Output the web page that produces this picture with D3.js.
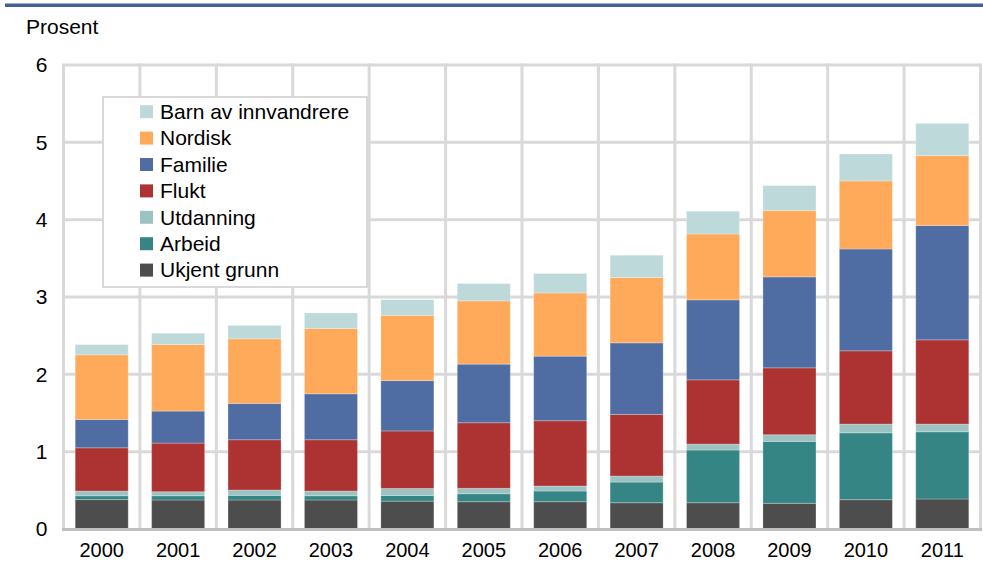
<!DOCTYPE html>
<html>
<head>
<meta charset="utf-8">
<script src="https://cdn.jsdelivr.net/npm/d3@7"></script>
<style>
  body { margin: 0; background: #fff; }
  text { font-family: "Liberation Sans", Arial, sans-serif; fill: #000; }
</style>
</head>
<body>
<svg id="chart" width="983" height="569"></svg>
<script>
// data (percent)
years = ["2000","2001","2002","2003","2004","2005","2006","2007","2008","2009","2010","2011"];

ukjent    = [0.38, 0.375, 0.375, 0.375, 0.36, 0.353, 0.353, 0.34, 0.34, 0.332, 0.379, 0.388];
arbeid    = [0.05, 0.055, 0.06, 0.055, 0.073, 0.103, 0.138, 0.267, 0.681, 0.801, 0.865, 0.869];
utdanning = [0.06, 0.052, 0.069, 0.061, 0.091, 0.07, 0.065, 0.078, 0.077, 0.086, 0.113, 0.10];
flukt     = [0.56, 0.629, 0.65, 0.663, 0.744, 0.848, 0.844, 0.797, 0.831, 0.865, 0.947, 1.089];
familie   = [0.366, 0.414, 0.47, 0.594, 0.651, 0.758, 0.835, 0.925, 1.034, 1.176, 1.317, 1.478];
nordisk   = [0.836, 0.861, 0.835, 0.845, 0.844, 0.818, 0.818, 0.845, 0.852, 0.857, 0.879, 0.904];
barn      = [0.133, 0.146, 0.173, 0.2, 0.203, 0.224, 0.25, 0.288, 0.294, 0.323, 0.349, 0.417];

seriesNames = ["Ukjent grunn", "Arbeid", "Utdanning", "Flukt", "Familie", "Nordisk", "Barn av innvandrere"];
seriesValues = [ukjent, arbeid, utdanning, flukt, familie, nordisk, barn];
seriesColors = ["#4d4d4d", "#348584", "#9cc3c1", "#ad3232", "#4f6ca3", "#ffaa5a", "#bed9d9"];

yTicks = [0, 1, 2, 3, 4, 5, 6];

margin = {top: 65, right: 2.5, bottom: 40, left: 63.5};
width = 983;
height = 569;

var svg = d3.select("#chart");

// table for d3.stack
var table = years.map(function(y, i) {
  var row = {year: y};
  seriesNames.forEach(function(n, k) { row[n] = seriesValues[k][i]; });
  return row;
});

var stack = d3.stack().keys(seriesNames);
var layers = stack(table);

var x = d3.scaleBand()
  .domain(years)
  .range([margin.left, width - margin.right])
  .paddingInner(0.306)
  .paddingOuter(0.153);

var y = d3.scaleLinear()
  .domain([0, 6])
  .range([height - margin.bottom, margin.top]);

var color = d3.scaleOrdinal().domain(seriesNames).range(seriesColors);

// top rule
svg.append("rect")
  .attr("x", 5).attr("y", 3.5)
  .attr("width", width - 5).attr("height", 3.5)
  .attr("fill", "#435f93");

// y label
svg.append("text")
  .attr("x", 26).attr("y", 34)
  .style("font-size", "21px")
  .text("Prosent");

// grid
var grid = svg.append("g").attr("class", "grid");

grid.selectAll(".hgrid")
  .data(yTicks.filter(function(d) { return d > 0; }))
  .enter().append("line")
  .attr("x1", margin.left).attr("x2", width - margin.right)
  .attr("y1", function(d) { return y(d); })
  .attr("y2", function(d) { return y(d); })
  .attr("stroke", "#d9d9d9")
  .attr("stroke-width", 3);

var step = x.step();
var bounds = d3.range(years.length + 1).map(function(i) { return margin.left + i * step; });

grid.selectAll(".vgrid")
  .data(bounds)
  .enter().append("line")
  .attr("x1", function(d) { return d; })
  .attr("x2", function(d) { return d; })
  .attr("y1", y(6) - 1.5).attr("y2", y(0))
  .attr("stroke", "#d9d9d9")
  .attr("stroke-width", 3);

// bars
svg.selectAll(".layer")
  .data(layers)
  .enter().append("g")
  .attr("class", "layer")
  .attr("fill", function(d) { return color(d.key); })
  .selectAll("rect")
  .data(function(d) { return d; })
  .enter().append("rect")
  .attr("x", function(d) { return x(d.data.year); })
  .attr("width", x.bandwidth())
  .attr("y", function(d) { return y(d[1]); })
  .attr("height", function(d) { return y(d[0]) - y(d[1]); })
  .attr("stroke", "#ffffff")
  .attr("stroke-opacity", 0.25)
  .attr("stroke-width", 1);

// x axis baseline
svg.append("line")
  .attr("x1", margin.left - 1.5).attr("x2", width - margin.right + 1.5)
  .attr("y1", y(0) + 0.5).attr("y2", y(0) + 0.5)
  .attr("stroke", "#bfbfbf")
  .attr("stroke-width", 3);

// axes
var xAxis = d3.axisBottom(x).tickSize(0).tickPadding(14);
var yAxis = d3.axisLeft(y).tickValues(yTicks).tickFormat(d3.format("d")).tickSize(0).tickPadding(16);

var gx = svg.append("g")
  .attr("transform", "translate(0," + y(0) + ")")
  .call(xAxis);
gx.select(".domain").remove();
gx.selectAll("text").style("font-size", "20px").attr("fill", "#000");

var gy = svg.append("g")
  .attr("transform", "translate(" + margin.left + ",0)")
  .call(yAxis);
gy.select(".domain").remove();
gy.selectAll("text").style("font-size", "21px").attr("fill", "#000");

// legend
var legend = svg.append("g").attr("class", "legend");
legend.append("rect")
  .attr("x", 103).attr("y", 97)
  .attr("width", 264).attr("height", 190)
  .attr("fill", "#fff")
  .attr("stroke", "#d9d9d9")
  .attr("stroke-width", 2);

var legendOrder = seriesNames.slice().reverse();
var items = legend.selectAll(".item")
  .data(legendOrder)
  .enter().append("g")
  .attr("transform", function(d, i) { return "translate(140," + (111.7 + i * 26.4) + ")"; });

items.append("rect")
  .attr("x", 0).attr("y", -6.5)
  .attr("width", 13).attr("height", 13)
  .attr("fill", function(d) { return color(d); });

items.append("text")
  .attr("x", 20).attr("y", 0)
  .attr("dy", "0.35em")
  .style("font-size", "21px")
  .text(function(d) { return d; });
</script>
</body>
</html>
